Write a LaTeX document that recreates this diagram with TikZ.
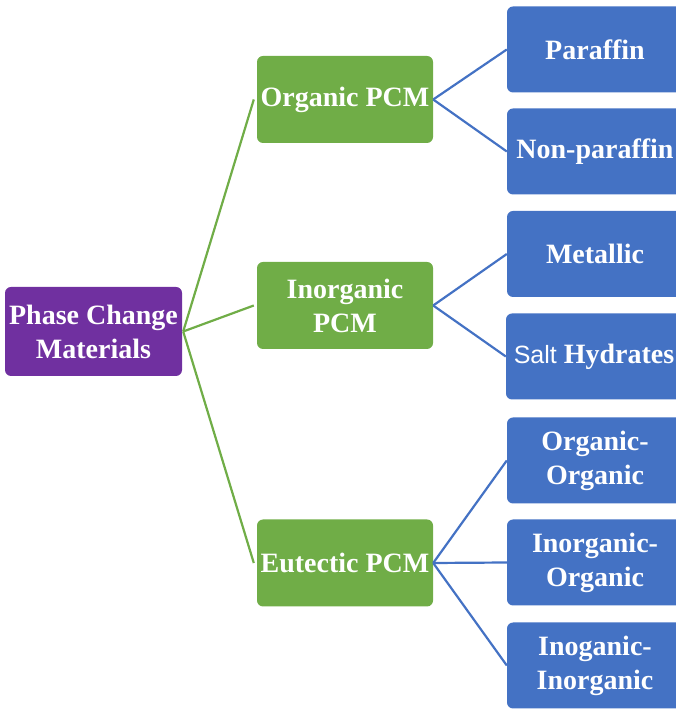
\documentclass[tikz,border=0pt]{standalone}
\usepackage{fontspec}
\setmainfont{Liberation Serif}
\newfontfamily\saltfont{Liberation Sans}
\definecolor{pcmpurple}{HTML}{7030A0}
\definecolor{pcmgreen}{HTML}{70AD47}
\definecolor{pcmblue}{HTML}{4472C4}
\tikzset{
  boxbase/.style={rounded corners=6pt, align=center, text=white, inner sep=0pt,
    font=\fontsize{28}{34}\selectfont\bfseries, minimum height=87pt},
  rootbox/.style={boxbase, fill=pcmpurple, minimum width=177pt, minimum height=89pt},
  midbox/.style={boxbase, fill=pcmgreen, minimum width=176pt},
  leafbox/.style={boxbase, fill=pcmblue, minimum width=176pt, minimum height=86pt},
  gline/.style={draw=pcmgreen, line width=2.2pt},
  bline/.style={draw=pcmblue, line width=2.2pt}
}
\begin{document}
\begin{tikzpicture}[x=1pt,y=1pt]
\useasboundingbox (0,0) rectangle (676,709);
\clip (0,0) rectangle (676,709);
\node[rootbox] (pcm) at (93.5,377.5) {Phase Change\\Materials};
\node[midbox] (org) at (345,609.5) {Organic PCM};
\node[midbox] (inorg) at (345,403.5) {Inorganic\\PCM};
\node[midbox] (eut) at (345,146) {Eutectic PCM};
\node[leafbox] (par) at (595,659.5) {Paraffin};
\node[leafbox] (npar) at (595,557.5) {Non-paraffin};
\node[leafbox] (met) at (595,455) {Metallic};
\node[leafbox] (salt) at (594,352.5) {{\saltfont\mdseries\fontsize{25}{34}\selectfont Salt} Hydrates};
\node[leafbox] (oo) at (595,248.5) {Organic-\\Organic};
\node[leafbox] (io) at (595,146.5) {Inorganic-\\Organic};
\node[leafbox] (ii) at (595,43.5) {Inoganic-\\Inorganic};
\coordinate (pj) at ([xshift=1pt]pcm.east);
\draw[gline] (pj) -- ([xshift=-3pt]org.west);
\draw[gline] (pj) -- ([xshift=-3pt]inorg.west);
\draw[gline] (pj) -- ([xshift=-3pt]eut.west);
\draw[bline] (org.east) -- (par.west);
\draw[bline] (org.east) -- (npar.west);
\draw[bline] (inorg.east) -- (met.west);
\draw[bline] (inorg.east) -- (salt.west);
\draw[bline] (eut.east) -- (oo.west);
\draw[bline] (eut.east) -- (io.west);
\draw[bline] (eut.east) -- (ii.west);
\end{tikzpicture}
\end{document}
